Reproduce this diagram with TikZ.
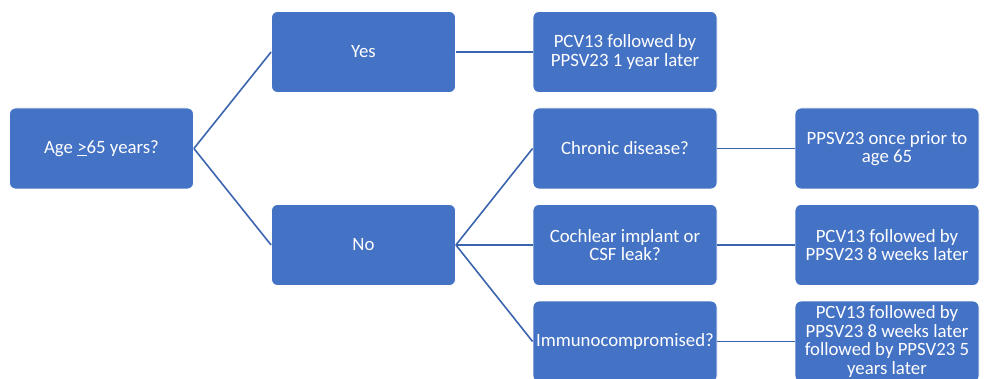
\documentclass[tikz,border=0pt]{standalone}
\usepackage{fontspec}
\setmainfont{Carlito}
\definecolor{boxblue}{HTML}{4472C4}
\definecolor{lineblue}{HTML}{3B64AE}
\begin{document}
\begin{tikzpicture}[x=1pt,y=-1pt,
  box/.style={draw=white,line width=0.8pt,fill=boxblue,rounded corners=6pt,text=white,
    minimum width=184pt,minimum height=81pt,align=center,font=\fontsize{18.8}{18.6}\selectfont,inner sep=1pt},
  conn/.style={draw=lineblue,line width=1.6pt}]
\useasboundingbox (0,0) rectangle (984,379);
\clip (0,0) rectangle (984,379);
\node[box] (age) at (101.5,148.5) {Age \underline{>}65 years?};
\node[box] (yes) at (363.5,52) {Yes};
\node[box] (no) at (363.5,245) {No};
\node[box] (pcv1) at (625,52) {PCV13 followed by\\PPSV23 1 year later};
\node[box] (chr) at (625,148.5) {Chronic disease?};
\node[box] (coc) at (625,245) {Cochlear implant or\\CSF leak?};
\node[box] (imm) at (625,341.5) {Immunocompromised?};
\node[box] (ppsv) at (887,148.5) {PPSV23 once prior to\\age 65};
\node[box] (pcv8) at (887,245) {PCV13 followed by\\PPSV23 8 weeks later};
\node[box] (pcv5) at (887,341.5) {PCV13 followed by\\PPSV23 8 weeks later\\followed by PPSV23 5\\years later};
\draw[conn] (age.east) -- (yes.west);
\draw[conn] (age.east) -- (no.west);
\draw[conn] (yes.east) -- (pcv1.west);
\draw[conn] (no.east) -- (chr.west);
\draw[conn] (no.east) -- (coc.west);
\draw[conn] (no.east) -- (imm.west);
\draw[conn] (chr.east) -- (ppsv.west);
\draw[conn] (coc.east) -- (pcv8.west);
\draw[conn] (imm.east) -- (pcv5.west);
\end{tikzpicture}
\end{document}
